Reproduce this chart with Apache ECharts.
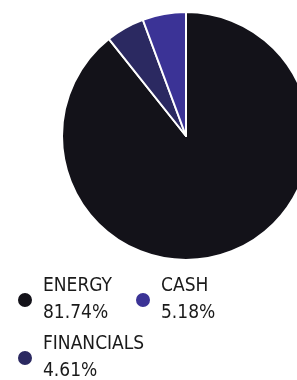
<!DOCTYPE html>
<html>
<head>
<meta charset="utf-8">
<script src="https://cdn.jsdelivr.net/npm/echarts@6/dist/echarts.min.js"></script>
<style>
  html,body{margin:0;padding:0;background:#fff;}
  #pie{width:297px;height:380px;}
</style>
</head>
<body>
<div id="pie"></div>
<script>
// slices in clockwise order from 12 o'clock
const sectors=["ENERGY","FINANCIALS","CASH"];
const weights=[81.74,4.61,5.18];
const sectorColors=["#131219","#2b2961","#3b3396"];
const legendOrder=["ENERGY","CASH","FINANCIALS"];

const myChart=echarts.init(document.getElementById('pie'));

const pctOf=(name)=>weights[sectors.indexOf(name)].toFixed(2)+"%";
const legendFont='"DejaVu Sans Condensed","Liberation Sans Narrow",sans-serif';

const option={
    animation:false,
    color:sectorColors,
    legend:{
        data:legendOrder,
        left:16,
        top:277,
        width:250,
        orient:'horizontal',
        icon:'circle',
        itemWidth:16,
        itemHeight:16,
        itemGap:12,
        padding:0,
        formatter:(name)=>`{n|${name}}\n{v|${pctOf(name)}}`,
        textStyle:{
            rich:{
                n:{fontFamily:legendFont,fontSize:19,color:'#1a1a1a',lineHeight:27,width:79,padding:[0,0,0,5]},
                v:{fontFamily:legendFont,fontSize:19,color:'#1a1a1a',lineHeight:27,width:79,padding:[0,0,0,5]}
            }
        }
    },
    series:[{
        type:'pie',
        center:[186,136],
        radius:124,
        startAngle:90,
        clockwise:true,
        label:{show:false},
        labelLine:{show:false},
        itemStyle:{borderColor:'#fff',borderWidth:2},
        emphasis:{disabled:true},
        data:sectors.map((s,i)=>({name:s,value:weights[i]}))
    }]
};
myChart.setOption(option);
</script>
</body>
</html>
